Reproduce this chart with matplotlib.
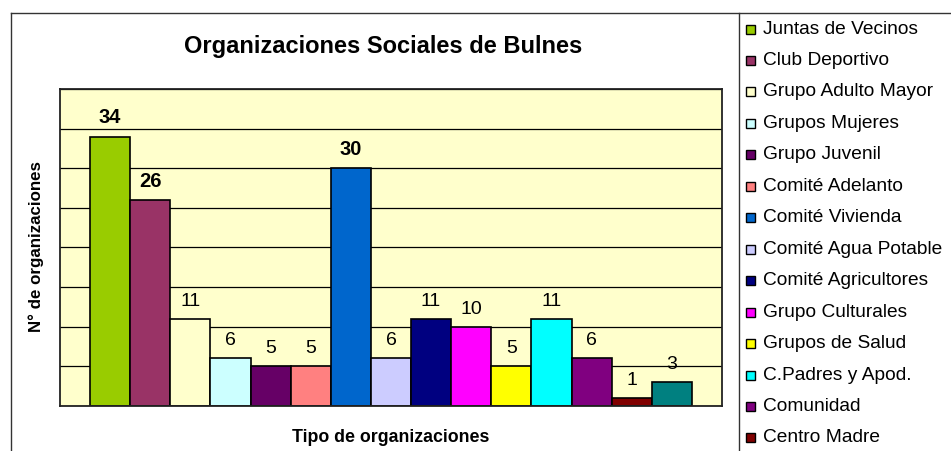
import matplotlib
matplotlib.use("Agg")
import matplotlib.pyplot as plt
from matplotlib.lines import Line2D
from matplotlib.patches import Rectangle
import numpy as np

plt.rcParams['font.family'] = ['Liberation Sans', 'DejaVu Sans']

# datos
tipos = ["Juntas de Vecinos", "Club Deportivo", "Grupo Adulto Mayor", "Grupos Mujeres",
         "Grupo Juvenil", "Comité Adelanto", "Comité Vivienda", "Comité Agua Potable",
         "Comité Agricultores", "Grupo Culturales", "Grupos de Salud", "C.Padres y Apod.",
         "Comunidad", "Centro Madre", "Otros"]
cantidades = [34, 26, 11, 6, 5, 5, 30, 6, 11, 10, 5, 11, 6, 1, 3]
colores = ["#99CC00", "#993366", "#FFFFCC", "#CCFFFF", "#660066", "#FF8080", "#0066CC",
           "#CCCCFF", "#000080", "#FF00FF", "#FFFF00", "#00FFFF", "#800080", "#800000",
           "#008080"]
negrita = [0, 1, 6]  # etiquetas en negrita

W, H = 951, 451
fig = plt.figure(figsize=(W / 100, H / 100), dpi=100)

def fx(px):
    return px / W

def fy(py):
    return 1 - py / H

# marco exterior y linea de la leyenda
for xs, ys in [([11, W], [13, 13]), ([11, 11], [13, H]), ([739, 739], [13, H])]:
    fig.add_artist(Line2D([fx(v) for v in xs], [fy(v) for v in ys], color="#333333", lw=1.0))

ax = fig.add_axes([fx(60), fy(406), fx(722) - fx(60), fy(89) - fy(406)])
ax.set_facecolor("#FFFFCC")

x = np.arange(len(cantidades))
barras = ax.bar(x, cantidades, width=1.0, color=colores, edgecolor="black", linewidth=1.2)

for i, (xi, v) in enumerate(zip(x, cantidades)):
    ax.annotate(str(v), (xi, v), xytext=(0, 9.5), textcoords="offset points",
                ha="center", va="baseline", fontsize=14.5 if i in negrita else 14,
                fontweight="bold" if i in negrita else "normal")

ax.set_xlim(-1.25, len(cantidades) + 0.25)
ax.set_ylim(0, 40)
ax.set_yticks(range(0, 41, 5))
ax.set_xticks([])
ax.tick_params(length=0, labelleft=False)
ax.yaxis.grid(True, color="black", linewidth=0.9)
ax.set_axisbelow(True)
for s in ax.spines.values():
    s.set_color("#222222")
    s.set_linewidth(1.3)

fig.text(fx(383), fy(46), "Organizaciones Sociales de Bulnes", ha="center", va="center",
         fontsize=17, fontweight="bold")
fig.text(fx(36), fy(246), "N° de organizaciones", ha="center", va="center",
         rotation=90, fontsize=12.2, fontweight="bold")
fig.text(fx(391), fy(437), "Tipo de organizaciones", ha="center", va="center",
         fontsize=12.8, fontweight="bold")

# leyenda (solo las filas que caben en la imagen)
for i, (nombre, c) in enumerate(zip(tipos, colores)):
    yc = 29 + i * 31.46
    if yc + 10 > H:
        break
    fig.add_artist(Rectangle((fx(746), fy(yc + 4.5)), fx(9), 9 / H, facecolor=c,
                             edgecolor="black", linewidth=1.0, transform=fig.transFigure))
    fig.text(fx(763), fy(yc), nombre, ha="left", va="center", fontsize=13.8)

fig.savefig("out.png", dpi=100)
